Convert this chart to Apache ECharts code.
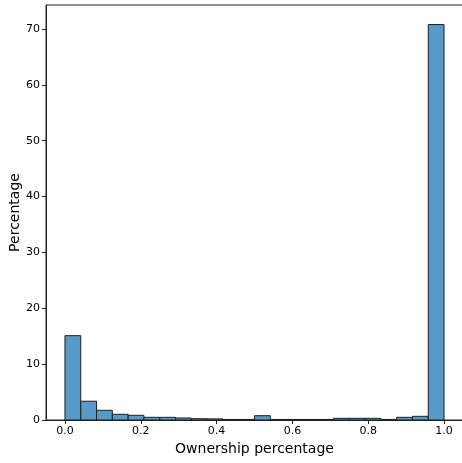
<!DOCTYPE html>
<html lang="en">
<head>
    <meta charset="UTF-8">
    <script src="https://cdn.jsdelivr.net/npm/echarts@6/dist/echarts.min.js"></script>
    <title>Ownership percentage histogram</title>
</head>
<body style="margin:0">
  <style>
    html, body { margin: 0; padding: 0; }
    #main { width: 462px; height: 463px; }
  </style>
  <div id="main"></div>

  <script>
    // 24 equal bins between 0 and 1
    var binCount = 24;
    var binPercent = [15.1, 3.36, 1.74, 1.02, 0.84, 0.48, 0.48, 0.36,
                      0.23, 0.2, 0.1, 0.1, 0.77, 0.1, 0.1, 0.1,
                      0.1, 0.3, 0.3, 0.3, 0.1, 0.48, 0.66, 70.8];
    var xTicks = [0, 0.2, 0.4, 0.6, 0.8, 1.0];
    var yTicks = [0, 10, 20, 30, 40, 50, 60, 70];

    var bins = binPercent.map(function(v, i) {
      return [i / binCount, (i + 1) / binCount, v];
    });

    var font = 'DejaVu Sans';
    var chart = echarts.init(document.getElementById('main'));

    chart.setOption({
      animation: false,
      grid: {
        left: 46, right: -1, top: 5, bottom: 43,
        outerBoundsMode: 'none', containLabel: false,
        show: true, borderColor: '#222', borderWidth: 1
      },
      xAxis: {
        type: 'value', min: -0.05, max: 1.05,
        name: 'Ownership percentage', nameLocation: 'middle', nameGap: 22,
        nameMoveOverlap: false,
        nameTextStyle: { fontFamily: font, fontSize: 14, color: '#000' },
        axisLine: { show: true, onZero: false, lineStyle: { color: '#222', width: 1 } },
        axisTick: { show: true, customValues: xTicks, length: 4, lineStyle: { color: '#222' } },
        axisLabel: {
          customValues: xTicks, fontFamily: font, fontSize: 11, color: '#000', margin: 6,
          formatter: function(v) { return v.toFixed(1); }
        },
        splitLine: { show: false }
      },
      yAxis: {
        type: 'value', min: 0, max: 74.3,
        name: 'Percentage', nameLocation: 'middle', nameGap: 24, nameRotate: 90,
        nameMoveOverlap: false,
        nameTextStyle: { fontFamily: font, fontSize: 14, color: '#000' },
        axisLine: { show: true, onZero: false, lineStyle: { color: '#222', width: 1 } },
        axisTick: { show: true, customValues: yTicks, length: 4, lineStyle: { color: '#222' } },
        axisLabel: {
          customValues: yTicks, fontFamily: font, fontSize: 11, color: '#000', margin: 6
        },
        splitLine: { show: false }
      },
      series: [{
        type: 'custom',
        data: bins,
        encode: { x: [0, 1], y: 2 },
        renderItem: function(params, api) {
          var p0 = api.coord([api.value(0), api.value(2)]);
          var p1 = api.coord([api.value(1), 0]);
          return {
            type: 'rect',
            shape: { x: p0[0], y: p0[1], width: p1[0] - p0[0], height: p1[1] - p0[1] },
            style: { fill: '#5799c7', stroke: '#1f1f1f', lineWidth: 1 }
          };
        }
      }]
    });
  </script>
</body>
</html>
